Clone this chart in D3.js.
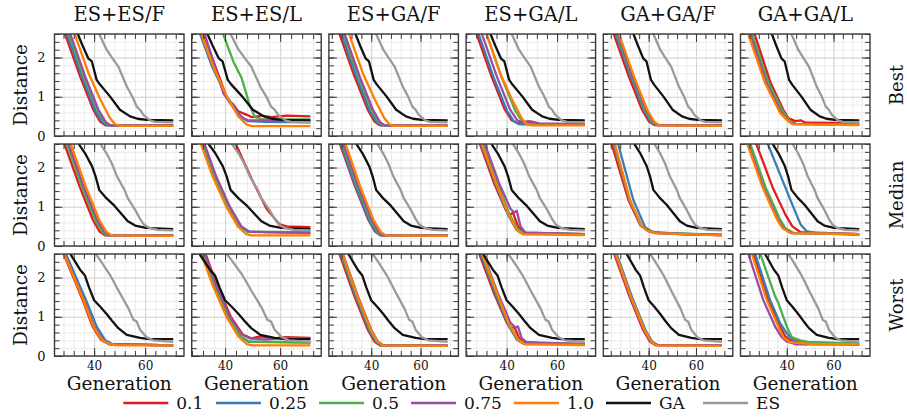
<!DOCTYPE html>
<html>
<head>
<meta charset="utf-8">
<script src="https://cdn.jsdelivr.net/npm/d3@7"></script>
<style>
  body { margin: 0; background: #fff; }
  svg { display: block; }
</style>
</head>
<body>
<svg id="chart" width="907" height="417"></svg>
<script>
// ---------- categories and tick labels ----------
const methods = ["ES+ES/F", "ES+ES/L", "ES+GA/F", "ES+GA/L", "GA+GA/F", "GA+GA/L"];
const rowNames = ["Best", "Median", "Worst"];
const rates = ["0.1", "0.25", "0.5", "0.75", "1.0"];
const seriesNames = [...rates, "GA", "ES"];
const xDomains = [[24.47, 75.23], [27.88, 74.92], [22.82, 75.38], [23.92, 75.28], [20.84, 75.56], [20.18, 75.62]];
const yDomain = [0, 2.6];
const xMajorTicks = [20, 40, 60];
const xMinorTicks = d3.range(20, 80, 4);
const yMajorTicks = [0, 1, 2];
const yMinorTicks = d3.range(0, 2.61, 0.2).map(v => +v.toFixed(1));

// ---------- baselines: [generation, distance] ----------
const gaBest = [[31.5,3.0],[33.6,2.6],[35.5,2.3],[37.7,1.98],[39.1,1.9],[41,1.43],[42.3,1.31],[46.2,1.01],[50.1,0.67],[54.1,0.5],[57,0.44],[60.6,0.41],[71,0.4]];
const esBest = [[41,2.8],[42,2.6],[44.9,2.2],[47,2.0],[49.5,1.77],[52.8,1.26],[55,1.0],[56.7,0.75],[58,0.67],[59.3,0.54],[61.9,0.4],[63.9,0.36],[71,0.35]];
const gaMedian = [[32.8,2.9],[34.2,2.58],[36.4,2.37],[39.2,2.03],[40.6,1.77],[42,1.43],[44.8,1.22],[47.6,1.05],[50.4,0.84],[53.2,0.63],[56.1,0.52],[60.3,0.46],[71,0.43]];
const esMedian = [[41.9,2.75],[42.7,2.58],[44.8,2.37],[46.9,2.11],[49,1.77],[51.9,1.43],[53.2,1.22],[56.1,0.92],[58.2,0.67],[59.6,0.54],[61.7,0.46],[65,0.41],[71,0.4]];
const gaWorst = [[29.8,2.9],[30.9,2.58],[34.5,2.2],[36.4,2.05],[38,1.75],[40,1.42],[42.5,1.25],[44.9,1.07],[47,0.9],[49.5,0.71],[52.8,0.54],[58,0.46],[61.9,0.43],[71,0.43]];
const esWorst = [[39.5,2.8],[40.4,2.62],[42.3,2.45],[46.2,2.07],[50.1,1.6],[53.4,1.22],[55.4,0.92],[56.7,0.88],[58,0.67],[60.6,0.48],[63.2,0.4],[71,0.36]];

// ---------- mixing-rate series per panel (0.1, 0.25, 0.5, 0.75, 1.0) ----------
const bestEsEsF = [
  [[27.5,2.8],[34.5,1.52],[39.7,0.67],[42.3,0.37],[44.5,0.27],[58,0.26],[71,0.26]],
  [[28.3,2.8],[35.3,1.5],[40.5,0.65],[43.1,0.36],[45.3,0.27],[71,0.26]],
  [[29.1,2.8],[36,1.5],[41.3,0.66],[44.1,0.35],[46,0.27],[71,0.27]],
  [[29.6,2.8],[36.6,1.5],[41.7,0.67],[44.5,0.36],[46.4,0.27],[71,0.27]],
  [[31.3,2.8],[37.8,1.6],[42.3,0.95],[46.2,0.46],[48.2,0.3],[50,0.26],[71,0.26]]
];
const bestEsEsL = [
  [[31.2,2.8],[36.6,1.75],[40.5,1.0],[41.8,0.84],[42.8,0.82],[44.8,0.63],[47.9,0.54],[49.7,0.48],[53.3,0.52],[56.9,0.48],[62.4,0.52],[71,0.5]],
  [[29.9,2.8],[35.1,1.8],[40.2,1.05],[46,0.48],[48.2,0.38],[55,0.36],[71,0.35]],
  [[38.4,2.8],[39.4,2.58],[43,1.9],[46,1.48],[49.1,0.75],[50.9,0.48],[53.3,0.43],[71,0.42]],
  [[31.7,2.8],[36.6,1.7],[39.4,1.09],[44.2,0.6],[46.6,0.46],[48.2,0.4],[71,0.39]],
  [[30.4,2.8],[35.7,1.77],[40.6,1.01],[44.8,0.5],[47.9,0.29],[49.7,0.25],[71,0.25]]
];
const bestEsGaF = [
  [[26,2.8],[33.2,1.52],[38.6,0.67],[41.3,0.37],[43.5,0.27],[71,0.26]],
  [[26.8,2.8],[34,1.5],[39.4,0.65],[42.1,0.36],[44.3,0.27],[71,0.26]],
  [[27.6,2.8],[34.8,1.5],[40.2,0.66],[43.1,0.35],[45.1,0.27],[71,0.27]],
  [[28.1,2.8],[35.4,1.5],[40.7,0.67],[43.5,0.36],[45.5,0.27],[71,0.27]],
  [[29.9,2.8],[36.6,1.6],[41.3,0.95],[45.3,0.46],[47.4,0.3],[49.2,0.26],[71,0.26]]
];
const bestEsGaL = [
  [[27,2.8],[34,1.52],[39.3,0.67],[42,0.4],[44.2,0.33],[48,0.36],[52,0.31],[71,0.3]],
  [[27.8,2.8],[34.8,1.5],[40.1,0.65],[42.8,0.38],[45,0.3],[71,0.29]],
  [[31,2.8],[38,1.5],[43.3,0.66],[46.1,0.37],[48.3,0.31],[71,0.3]],
  [[29.1,2.8],[36.2,1.5],[41.4,0.67],[44.2,0.4],[46,0.35],[49,0.38],[53,0.32],[71,0.3]],
  [[30.9,2.8],[37.4,1.6],[42,0.95],[45.9,0.46],[47.9,0.3],[49.7,0.27],[71,0.27]]
];
const bestGaGaF = [
  [[24.1,2.8],[31.6,1.52],[37.2,0.67],[40.1,0.37],[42.4,0.28],[71,0.27]],
  [[24.9,2.8],[32.5,1.5],[38.1,0.65],[40.9,0.36],[43.2,0.28],[71,0.27]],
  [[25.4,2.8],[33,1.5],[38.5,0.66],[41.5,0.35],[43.6,0.28],[71,0.27]],
  [[25.8,2.8],[33.3,1.5],[38.9,0.67],[42,0.36],[44.1,0.28],[71,0.27]],
  [[26.3,2.8],[33.9,1.5],[39.4,0.67],[42.4,0.36],[44.5,0.27],[71,0.26]]
];
const bestGaGaL = [
  [[25.1,2.8],[33.1,1.35],[38.5,0.67],[40.6,0.46],[43.7,0.38],[45.9,0.4],[48,0.34],[71,0.33]],
  [[23.8,2.8],[32.1,1.35],[38.4,0.6],[41.2,0.38],[43.7,0.31],[71,0.3]],
  [[24,2.8],[32.2,1.35],[38.6,0.6],[41.4,0.37],[43.7,0.31],[71,0.3]],
  [[23.2,2.8],[31.3,1.35],[37.7,0.6],[40.7,0.38],[43.3,0.31],[71,0.3]],
  [[22.3,2.8],[30.7,1.35],[37.1,0.59],[40,0.41],[42.4,0.3],[71,0.28]]
];

const medianEsEsF = [
  [[27.3,2.8],[34.3,1.52],[39.5,0.67],[42.1,0.37],[44.3,0.27],[71,0.26]],
  [[28.6,2.8],[35.6,1.5],[40.8,0.65],[43.4,0.36],[45.6,0.28],[71,0.27]],
  [[28.3,2.8],[35.3,1.5],[40.5,0.66],[43.3,0.35],[45.3,0.27],[71,0.27]],
  [[29,2.8],[36,1.5],[41.2,0.67],[44,0.36],[46,0.27],[71,0.27]],
  [[29.8,2.8],[36.8,1.5],[42,0.67],[44.8,0.36],[47,0.27],[71,0.26]]
];
const medianEsEsL = [
  [[42.8,2.8],[43.9,2.6],[49.7,1.7],[55.1,0.95],[59.8,0.55],[62.4,0.5],[71,0.48]],
  [[30.7,2.8],[36,1.77],[40.9,1.01],[45.1,0.5],[48.2,0.36],[71,0.35]],
  [[31.1,2.8],[36.4,1.77],[41.3,1.01],[45.5,0.5],[48.6,0.36],[71,0.34]],
  [[31.5,2.8],[36.8,1.77],[41.7,1.01],[45.9,0.5],[49,0.36],[71,0.33]],
  [[30.2,2.8],[35.5,1.77],[40.4,1.01],[44.6,0.5],[47.7,0.3],[49.5,0.27],[71,0.27]]
];
const medianEsGaF = [
  [[26.2,2.8],[33.4,1.52],[38.8,0.67],[41.5,0.37],[43.7,0.27],[71,0.26]],
  [[26.6,2.8],[33.8,1.5],[39.2,0.65],[41.9,0.36],[44.1,0.27],[71,0.26]],
  [[27.2,2.8],[34.4,1.5],[39.8,0.66],[42.7,0.35],[44.7,0.27],[71,0.27]],
  [[27.6,2.8],[34.8,1.5],[40.2,0.67],[43,0.36],[45,0.27],[71,0.27]],
  [[28.5,2.8],[35.6,1.5],[40.9,0.67],[43.8,0.36],[46,0.27],[71,0.26]]
];
const medianEsGaL = [
  [[28.3,2.8],[35,1.6],[39.8,0.9],[41.5,0.8],[42.5,0.85],[44.5,0.5],[46.9,0.34],[71,0.3]],
  [[28.7,2.8],[35.5,1.6],[40.5,0.8],[43.8,0.42],[46,0.32],[71,0.3]],
  [[29.5,2.8],[36.3,1.6],[41.2,0.8],[44.5,0.42],[46.8,0.32],[71,0.3]],
  [[30.2,2.8],[37,1.6],[41.5,0.95],[43,0.85],[44,0.9],[45.5,0.5],[47.5,0.34],[71,0.3]],
  [[29,2.8],[35.8,1.6],[40.8,0.8],[44,0.42],[46.3,0.3],[71,0.28]]
];
const medianGaGaF = [
  [[23.4,2.8],[31.4,1.18],[36.4,0.54],[39.2,0.41],[42,0.35],[54.6,0.3],[71,0.28]],
  [[26.2,2.8],[33.5,1.18],[38.5,0.48],[41.3,0.37],[44.1,0.33],[71,0.28]],
  [[24.3,2.8],[31.8,1.18],[36.8,0.52],[39.6,0.39],[42.5,0.34],[71,0.28]],
  [[24.6,2.8],[32,1.18],[37,0.51],[39.8,0.38],[42.7,0.33],[71,0.28]],
  [[24.8,2.8],[32.1,1.18],[37.1,0.5],[39.9,0.38],[42.8,0.33],[71,0.27]]
];
const medianGaGaL = [
  [[25.7,2.8],[33.9,1.5],[39.4,0.8],[42.4,0.5],[45.9,0.35],[71,0.3]],
  [[30.5,2.8],[37.3,1.8],[42.4,1.05],[45.9,0.55],[48.4,0.38],[52.3,0.33],[71,0.3]],
  [[23.2,2.8],[30.9,1.5],[36.9,0.7],[39.4,0.45],[42.9,0.33],[71,0.3]],
  [[22.3,2.8],[30,1.5],[36,0.7],[38.6,0.45],[42,0.33],[71,0.3]],
  [[21.9,2.8],[29.6,1.5],[35.6,0.7],[38.2,0.45],[41.6,0.33],[71,0.3]]
];

const worstEsEsF = [
  [[26.8,2.8],[35.5,1.43],[39.4,0.75],[42.7,0.41],[45.9,0.3],[71,0.27]],
  [[27.6,2.8],[36.8,1.43],[41,0.75],[44.4,0.4],[47.3,0.3],[71,0.27]],
  [[27.1,2.8],[35.9,1.43],[39.9,0.75],[43.2,0.41],[46.3,0.3],[71,0.27]],
  [[27.2,2.8],[36,1.43],[40,0.75],[43.3,0.41],[46.4,0.3],[71,0.27]],
  [[27,2.8],[35.8,1.43],[39.7,0.75],[43,0.41],[46.2,0.3],[49,0.27],[71,0.27]]
];
const worstEsEsL = [
  [[31.9,2.8],[37.1,1.8],[42.1,1.0],[46.4,0.55],[49.5,0.45],[53,0.5],[57,0.44],[62,0.48],[71,0.46]],
  [[30.8,2.8],[36,1.8],[41,1.0],[45.3,0.5],[48.5,0.36],[71,0.34]],
  [[31.2,2.8],[36.4,1.8],[41.4,1.0],[45.7,0.5],[48.8,0.37],[71,0.35]],
  [[31.6,2.8],[36.8,1.8],[41.8,1.0],[46.1,0.55],[49.2,0.45],[55,0.42],[60,0.46],[71,0.44]],
  [[30.4,2.8],[35.5,1.8],[40.5,1.0],[44.8,0.5],[47.9,0.3],[50,0.27],[71,0.27]]
];
const worstEsGaF = [
  [[26,2.8],[33.2,1.52],[38.6,0.67],[41.3,0.37],[43.5,0.27],[71,0.26]],
  [[26.5,2.8],[33.7,1.52],[39.1,0.67],[41.8,0.37],[44,0.27],[71,0.26]],
  [[26.9,2.8],[34.1,1.52],[39.5,0.67],[42.2,0.37],[44.4,0.27],[71,0.27]],
  [[27.4,2.8],[34.6,1.52],[40,0.67],[42.7,0.37],[44.9,0.27],[71,0.27]],
  [[27.2,2.8],[34.4,1.52],[39.8,0.67],[42.5,0.37],[44.7,0.27],[71,0.26]]
];
const worstEsGaL = [
  [[28,2.8],[35,1.6],[40,0.85],[42,0.7],[43,0.75],[45,0.45],[47,0.35],[52,0.33],[71,0.3]],
  [[28.5,2.8],[35.5,1.6],[40.5,0.8],[44,0.42],[46.5,0.32],[71,0.3]],
  [[29,2.8],[36,1.6],[41,0.8],[44.5,0.42],[47,0.32],[71,0.3]],
  [[29.5,2.8],[36.5,1.6],[41.5,0.85],[43.5,0.72],[44.5,0.75],[46,0.45],[48,0.35],[71,0.3]],
  [[29.2,2.8],[36.2,1.6],[41,0.8],[44.5,0.42],[47,0.3],[71,0.28]]
];
const worstGaGaF = [
  [[24.3,2.8],[32,1.5],[37.6,0.67],[40.5,0.37],[42.8,0.28],[71,0.27]],
  [[25.3,2.8],[33,1.5],[38.6,0.67],[41.5,0.37],[43.8,0.28],[71,0.27]],
  [[24.8,2.8],[32.5,1.5],[38.1,0.67],[41,0.37],[43.3,0.28],[71,0.27]],
  [[24.6,2.8],[32.3,1.5],[37.9,0.67],[40.8,0.37],[43.1,0.28],[71,0.27]],
  [[24.9,2.8],[32.6,1.5],[38.2,0.67],[41.1,0.37],[43.4,0.27],[71,0.26]]
];
const worstGaGaL = [
  [[24.6,2.8],[32,1.43],[36.8,0.78],[39.3,0.5],[41.5,0.4],[45,0.38],[50,0.34],[71,0.3]],
  [[25.4,2.8],[32.8,1.43],[37.1,0.84],[40,0.58],[41.4,0.48],[43.7,0.36],[71,0.31]],
  [[27.5,2.8],[35,1.52],[36.4,1.35],[38.5,1.0],[40,0.75],[42.1,0.48],[45.7,0.4],[50.2,0.35],[71,0.32]],
  [[22.5,2.8],[29.9,1.43],[35,0.75],[37.8,0.48],[39.9,0.37],[43.7,0.3],[71,0.29]],
  [[24,2.8],[31.4,1.43],[36.4,0.75],[38.5,0.48],[41.4,0.35],[50,0.31],[71,0.3]]
];

const panelRows = [
  [bestEsEsF, bestEsEsL, bestEsGaF, bestEsGaL, bestGaGaF, bestGaGaL],
  [medianEsEsF, medianEsEsL, medianEsGaF, medianEsGaL, medianGaGaF, medianGaGaL],
  [worstEsEsF, worstEsEsL, worstEsGaF, worstEsGaL, worstGaGaF, worstGaGaL]
];
const rowBaselines = [[gaBest, esBest], [gaMedian, esMedian], [gaWorst, esWorst]];

// ---------- styling and layout ----------
const colors = ["#e41a1c", "#377eb8", "#4daf4a", "#984ea3", "#ff7f00", "#111111", "#9a9a9a"];
const serif = "'DejaVu Serif', 'Liberation Serif', serif";
const frameColor = "#3a3a3a";
const L0 = 54.5, colStep = 137.2, PW = 129.5;
const T0 = 34, rowStep = 110, PH = 102;

const svg = d3.select("#chart");
const y = d3.scaleLinear().domain(yDomain).range([PH, 0]);
const inDomain = (ticks, dom) => ticks.filter(t => t >= dom[0] - 1e-9 && t <= dom[1] + 1e-9);

function styleAxis(sel, color) {
  sel.select(".domain").remove();
  sel.attr("color", color).attr("font-family", serif);
}

panelRows.forEach((row, r) => {
  row.forEach((rateSeries, c) => {
    const x = d3.scaleLinear().domain(xDomains[c]).range([0, PW]);
    const xMaj = inDomain(xMajorTicks, xDomains[c]);
    const xMin = inDomain(xMinorTicks, xDomains[c]);
    const g = svg.append("g").attr("transform", `translate(${L0 + c * colStep},${T0 + r * rowStep})`);

    // grid: minor then major
    g.append("g").attr("transform", `translate(0,${PH})`)
      .call(d3.axisBottom(x).tickValues(xMin).tickSize(-PH).tickFormat(""))
      .call(s => styleAxis(s, "#ebebeb"));
    g.append("g")
      .call(d3.axisLeft(y).tickValues(yMinorTicks).tickSize(-PW).tickFormat(""))
      .call(s => styleAxis(s, "#ebebeb"));
    g.append("g").attr("transform", `translate(0,${PH})`)
      .call(d3.axisBottom(x).tickValues(xMaj).tickSize(-PH).tickFormat(""))
      .call(s => styleAxis(s, "#d4d4d4"));
    g.append("g")
      .call(d3.axisLeft(y).tickValues(yMajorTicks).tickSize(-PW).tickFormat(""))
      .call(s => styleAxis(s, "#d4d4d4"));

    // data lines
    const clipId = `clip-${r}-${c}`;
    g.append("clipPath").attr("id", clipId).append("rect").attr("width", PW).attr("height", PH);
    const line = d3.line().x(d => x(d[0])).y(d => y(d[1]));
    const all = [...rateSeries, ...rowBaselines[r]];
    g.append("g").attr("clip-path", `url(#${clipId})`)
      .selectAll("path").data(all).join("path")
      .attr("d", line)
      .attr("fill", "none")
      .attr("stroke", (d, i) => colors[i])
      .attr("stroke-width", 2.3)
      .attr("stroke-linejoin", "round");

    // inward ticks on all four sides
    [[xMin, 5], [xMaj, 8]].forEach(([vals, len], k) => {
      const showX = k === 1 && r === 2;
      g.append("g").attr("transform", `translate(0,${PH})`)
        .call(d3.axisBottom(x).tickValues(vals).tickSize(-len).tickPadding(5)
          .tickFormat(showX ? d3.format("d") : ""))
        .call(s => styleAxis(s, frameColor))
        .call(s => s.selectAll("text").attr("font-size", 12).attr("fill", "#111"));
      g.append("g")
        .call(d3.axisTop(x).tickValues(vals).tickSize(-len).tickFormat(""))
        .call(s => styleAxis(s, frameColor));
    });
    [[yMinorTicks, 5], [yMajorTicks, 8]].forEach(([vals, len], k) => {
      const showY = k === 1 && c === 0;
      g.append("g")
        .call(d3.axisLeft(y).tickValues(vals).tickSize(-len).tickPadding(9)
          .tickFormat(showY ? d3.format("d") : ""))
        .call(s => styleAxis(s, frameColor))
        .call(s => s.selectAll("text").attr("font-size", 13).attr("fill", "#111"));
      g.append("g").attr("transform", `translate(${PW},0)`)
        .call(d3.axisRight(y).tickValues(vals).tickSize(-len).tickFormat(""))
        .call(s => styleAxis(s, frameColor));
    });

    // frame
    g.append("rect").attr("width", PW).attr("height", PH)
      .attr("fill", "none").attr("stroke", frameColor).attr("stroke-width", 1.4);

    // labels
    if (r === 0) {
      g.append("text").attr("x", PW / 2).attr("y", -13)
        .attr("text-anchor", "middle").attr("font-family", serif).attr("font-size", 19.5)
        .attr("fill", "#111").text(methods[c]);
    }
    if (r === 2) {
      g.append("text").attr("x", PW / 2).attr("y", PH + 34)
        .attr("text-anchor", "middle").attr("font-family", serif).attr("font-size", 18.5)
        .attr("fill", "#111").text("Generation");
    }
    if (c === 0) {
      g.append("text").attr("transform", `translate(${27 - L0},${PH / 2}) rotate(-90)`)
        .attr("text-anchor", "middle").attr("font-family", serif).attr("font-size", 18.5)
        .attr("fill", "#111").text("Distance");
    }
    if (c === 5) {
      g.append("text").attr("transform", `translate(${PW + 33},${PH / 2}) rotate(-90)`)
        .attr("text-anchor", "middle").attr("font-family", serif).attr("font-size", 18)
        .attr("fill", "#111").text(rowNames[r]);
    }
  });
});

// ---------- legend ----------
const legendStarts = [123.3, 216, 319, 411, 514, 606, 703];
const legendY = 403;
const legend = svg.append("g");
seriesNames.forEach((name, i) => {
  const x0 = legendStarts[i];
  legend.append("line").attr("x1", x0).attr("x2", x0 + 45)
    .attr("y1", legendY).attr("y2", legendY)
    .attr("stroke", colors[i]).attr("stroke-width", 2.3);
  legend.append("text").attr("x", x0 + 53).attr("y", legendY + 6)
    .attr("font-family", serif).attr("font-size", 17).attr("fill", "#111").text(name);
});
</script>
</body>
</html>
